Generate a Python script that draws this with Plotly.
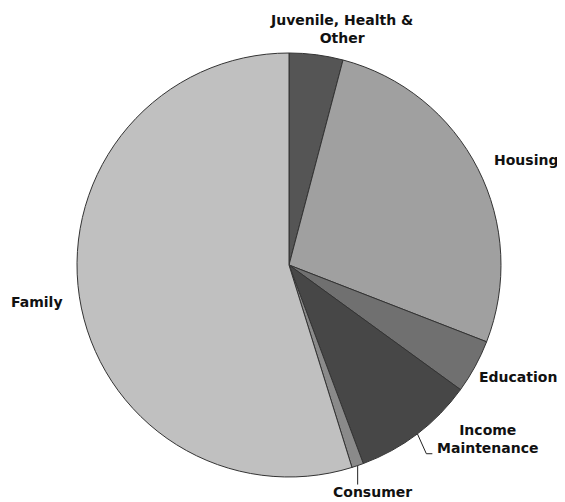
import math
import plotly.graph_objects as go

categories = ["Juvenile, Health &<br>Other", "Housing", "Education",
              "Income<br>Maintenance", "Consumer", "Family"]
values = [4.1, 26.8, 4.1, 9.3, 0.9, 54.8]
colors = ["#555555", "#a0a0a0", "#707070", "#474747", "#8a8a8a", "#c0c0c0"]

W, H = 565, 502
OFF = 8  # page body margin
cx, cy, R = 289, 265, 212  # pixel geometry of the pie (window pixels)


def px(x):
    return (x - OFF) / W


def py(y):
    return 1 - (y - OFF) / H


fig = go.Figure(go.Pie(
    labels=categories,
    values=values,
    sort=False,
    direction="clockwise",
    rotation=0,
    textinfo="none",
    hoverinfo="label+percent",
    marker=dict(colors=colors, line=dict(color="#333333", width=1)),
    domain=dict(x=[px(cx - R), px(cx + R)], y=[py(cy + R), py(cy - R)]),
    showlegend=False,
))

font = dict(family="DejaVu Sans", size=14, color="#111111", weight="bold")

# label positions (pixel anchors)
label_pos = [
    (341, 29, "center"),
    (492, 160, "left"),
    (559, 377, "right"),
    (488, 439, "center"),
    (372, 492, "center"),
    (37, 302, "center"),
]
for name, (x, y, anchor) in zip(categories, label_pos):
    fig.add_annotation(x=px(x), y=py(y), xref="paper", yref="paper",
                       text=name, showarrow=False, font=font,
                       xanchor=anchor, yanchor="middle", align="center")

# leader lines from slice mid-angles
total = sum(values)
cum = 0
mids = []
for v in values:
    mids.append((cum + v / 2) / total * 2 * math.pi)
    cum += v


def edge(i):
    a = mids[i]
    return cx + R * math.sin(a), cy - R * math.cos(a)

# Income Maintenance
ex, ey = edge(3)
pts = [(ex, ey), (ex + 9, ey + 20), (ex + 15, ey + 20)]
path = "M " + " L ".join(f"{px(x)},{py(y)}" for x, y in pts)
fig.add_shape(type="path", path=path, xref="paper", yref="paper",
              line=dict(color="#222222", width=1))
# Consumer
ex, ey = edge(4)
fig.add_shape(type="line", x0=px(ex), y0=py(ey), x1=px(ex), y1=py(ey + 19),
              xref="paper", yref="paper", line=dict(color="#222222", width=1))

fig.update_layout(width=W, height=H, margin=dict(l=0, r=0, t=0, b=0),
                  paper_bgcolor="white", plot_bgcolor="white")
fig.write_html("out.html")
